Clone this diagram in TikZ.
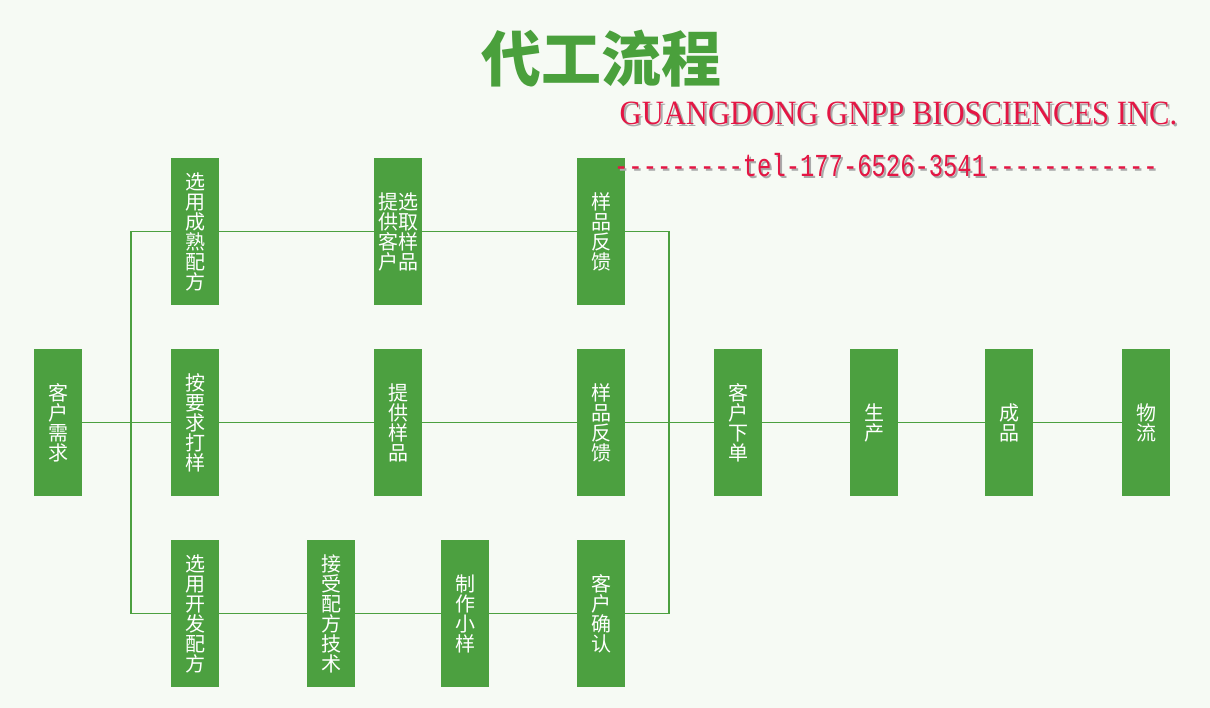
\documentclass[tikz,border=0pt]{standalone}
\usepackage{fontspec}
\setmainfont{Liberation Serif}
\newfontfamily\cjk{Noto Sans CJK SC}
\newfontfamily\corpfont[FakeStretch=0.9]{Liberation Serif}
\newfontfamily\telfont[FakeStretch=0.745,Ligatures=TeXOff]{Liberation Mono}
\definecolor{pagebg}{RGB}{246,250,244}
\definecolor{stagegreen}{RGB}{76,160,64}
\definecolor{titlegreen}{RGB}{74,160,60}
\definecolor{corpred}{RGB}{228,22,68}
\definecolor{glow}{RGB}{170,170,170}

\begin{document}
\begin{tikzpicture}[x=1pt, y=-1pt,
  stage/.style={fill=stagegreen, text=white, minimum width=48pt, minimum height=147pt,
    inner sep=0pt, align=center, font=\cjk\fontsize{20}{20}\selectfont},
  link/.style={draw=stagegreen, line width=1.3pt},
  corp/.style={font=\corpfont\fontsize{34}{34}\selectfont, inner sep=0pt},
  tel/.style={font=\telfont\fontsize{32}{32}\selectfont, inner sep=0pt}
]
\fill[pagebg] (0,0) rectangle (1210,708);
\node[font=\cjk\bfseries\fontsize{60}{60}\selectfont, text=titlegreen] (title) at (601.5,59) {代工流程};
\node[stage] (need) at (58,422.5) {客\\户\\需\\求};
\node[stage] (mature) at (195,231.5) {选\\用\\成\\熟\\配\\方};
\node[stage] (sample) at (195,422.5) {按\\要\\求\\打\\样};
\node[stage] (develop) at (195,613.5) {选\\用\\开\\发\\配\\方};
\node[stage] (offer) at (398,231.5) {提选\\供取\\客样\\户品};
\node[stage] (provide) at (398,422.5) {提\\供\\样\\品};
\node[stage] (accept) at (331,613.5) {接\\受\\配\\方\\技\\术};
\node[stage] (make) at (465,613.5) {制\\作\\小\\样};
\node[stage] (feedA) at (601,231.5) {样\\品\\反\\馈};
\node[stage] (feedB) at (601,422.5) {样\\品\\反\\馈};
\node[stage] (confirm) at (601,613.5) {客\\户\\确\\认};
\node[stage] (order) at (738,422.5) {客\\户\\下\\单};
\node[stage] (produce) at (874,422.5) {生\\产};
\node[stage] (product) at (1009,422.5) {成\\品};
\node[stage] (ship) at (1146,422.5) {物\\流};
\coordinate (splitT) at (131,231.5);
\coordinate (splitB) at (131,613.5);
\coordinate (joinT) at (669,231.5);
\coordinate (joinB) at (669,613.5);
\draw[link] (mature) -- (splitT) -- (splitB) -- (develop);
\draw[link] (feedA) -- (joinT) -- (joinB) -- (confirm);
\draw[link] (mature) -- (offer) -- (feedA);
\draw[link] (develop) -- (accept) -- (make) -- (confirm);
\draw[link] (need) -- (sample) -- (provide) -- (feedB) -- (order) -- (produce) -- (product) -- (ship);
\node[corp, text=glow] at (900.5,115) {GUANGDONG GNPP BIOSCIENCES INC.};
\node[corp, text=corpred] (company) at (898.5,113) {GUANGDONG GNPP BIOSCIENCES INC.};
\node[tel, text=glow] at (888,167) {---------tel-177-6526-3541------------};
\node[tel, text=corpred] (phone) at (886,165) {---------tel-177-6526-3541------------};
\end{tikzpicture}
\end{document}
